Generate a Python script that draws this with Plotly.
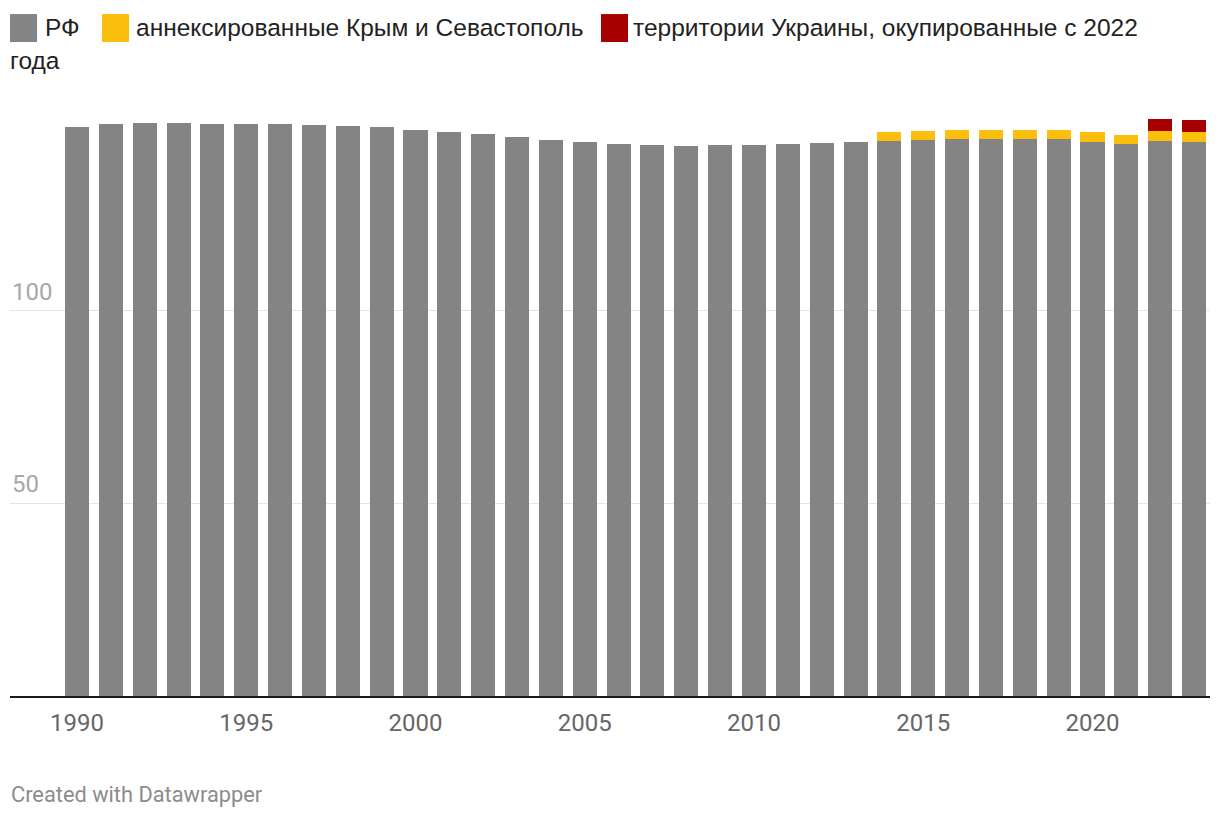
import plotly.graph_objects as go

years = list(range(1990, 2024))
rf = [147.8, 148.6, 148.8, 148.8, 148.6, 148.6, 148.6, 148.3, 148.0, 147.8,
      147.0, 146.5, 146.0, 145.2, 144.4, 143.9, 143.4, 143.1, 142.9, 143.1,
      143.1, 143.4, 143.6, 143.9, 144.2, 144.4, 144.7, 144.7, 144.7, 144.7,
      143.9, 143.4, 144.2, 143.9]
crimea = [None] * 24 + [2.3, 2.4, 2.3, 2.3, 2.3, 2.3, 2.6, 2.3, 2.6, 2.6]
occupied = [None] * 32 + [3.1, 3.1]

series_names = ["РФ", "аннексированные Крым и Севастополь",
                "территории Украины, окупированные с 2022"]
legend_wrap = "года"
colors = ["#848484", "#fbbe0b", "#a80000"]

x_ticks = [1990, 1995, 2000, 2005, 2010, 2015, 2020]
y_ticks = [50, 100]

# pixel geometry of the plot area
W, H = 1220, 820
PL, PR, PT, PB = 10, 10, 100, 123.6
plot_w = W - PL - PR
plot_h = H - PT - PB
px_per_unit_y = 3.854
px_per_year = 33.85

def px_x(px):
    return (px - PL) / plot_w

def px_y(py):
    return (H - PB - py) / plot_h

fig = go.Figure()
for name, vals, col in zip(series_names, [rf, crimea, occupied], colors):
    fig.add_trace(go.Bar(x=years, y=vals, name=name, marker_color=col,
                         marker_line_width=0, showlegend=False))

x0 = 1990 - 67 / px_per_year
x1 = x0 + plot_w / px_per_year
fig.update_layout(
    width=W, height=H,
    margin=dict(l=PL, r=PR, t=PT, b=PB, pad=0),
    barmode="stack", bargap=0.29,
    plot_bgcolor="white", paper_bgcolor="white",
    font=dict(family="Roboto", size=24, color="#666666"),
    xaxis=dict(range=[x0, x1], tickvals=x_ticks, ticktext=[str(v) for v in x_ticks],
               showgrid=False, zeroline=False, showline=True, linecolor="#1a1a1a",
               linewidth=2, ticks="outside", ticklen=4, tickcolor="rgba(0,0,0,0)",
               tickfont=dict(family="Roboto", size=24, color="#666666")),
    yaxis=dict(range=[0, plot_h / px_per_unit_y], tickvals=y_ticks,
               showticklabels=False,
               showgrid=True, gridcolor="#e5e5e5", gridwidth=1, zeroline=False),
)

shapes = []
annotations = []

# y tick labels above their gridlines, inside the plot
for v in y_ticks:
    annotations.append(dict(text=str(v), xref="paper", yref="y", x=0, y=v,
                            xanchor="left", yanchor="bottom", yshift=3,
                            showarrow=False,
                            font=dict(family="Roboto", size=24, color="#a8a8a8")))

# manual legend
legend_items = [(10, 43), (102, 134), (601, 631)]
for (sq_x, tx_x), name, col in zip(legend_items, series_names, colors):
    shapes.append(dict(type="rect", xref="paper", yref="paper",
                       x0=px_x(sq_x), x1=px_x(sq_x + 27),
                       y0=px_y(42), y1=px_y(14), fillcolor=col, line_width=0))
    annotations.append(dict(text=name, xref="paper", yref="paper",
                            x=px_x(tx_x), y=px_y(27), xanchor="left", yanchor="middle",
                            showarrow=False,
                            font=dict(family="Liberation Sans", size=24.5, color="#222222")))
annotations.append(dict(text=legend_wrap, xref="paper", yref="paper",
                        x=px_x(8), y=px_y(60), xanchor="left", yanchor="middle",
                        showarrow=False,
                        font=dict(family="Liberation Sans", size=24.5, color="#222222")))
annotations.append(dict(text="Created with Datawrapper", xref="paper", yref="paper",
                        x=px_x(9), y=px_y(795), xanchor="left", yanchor="middle",
                        showarrow=False,
                        font=dict(family="Roboto", size=21.8, color="#8c8c8c")))
fig.update_layout(shapes=shapes, annotations=annotations)

fig.write_html("out.html")
